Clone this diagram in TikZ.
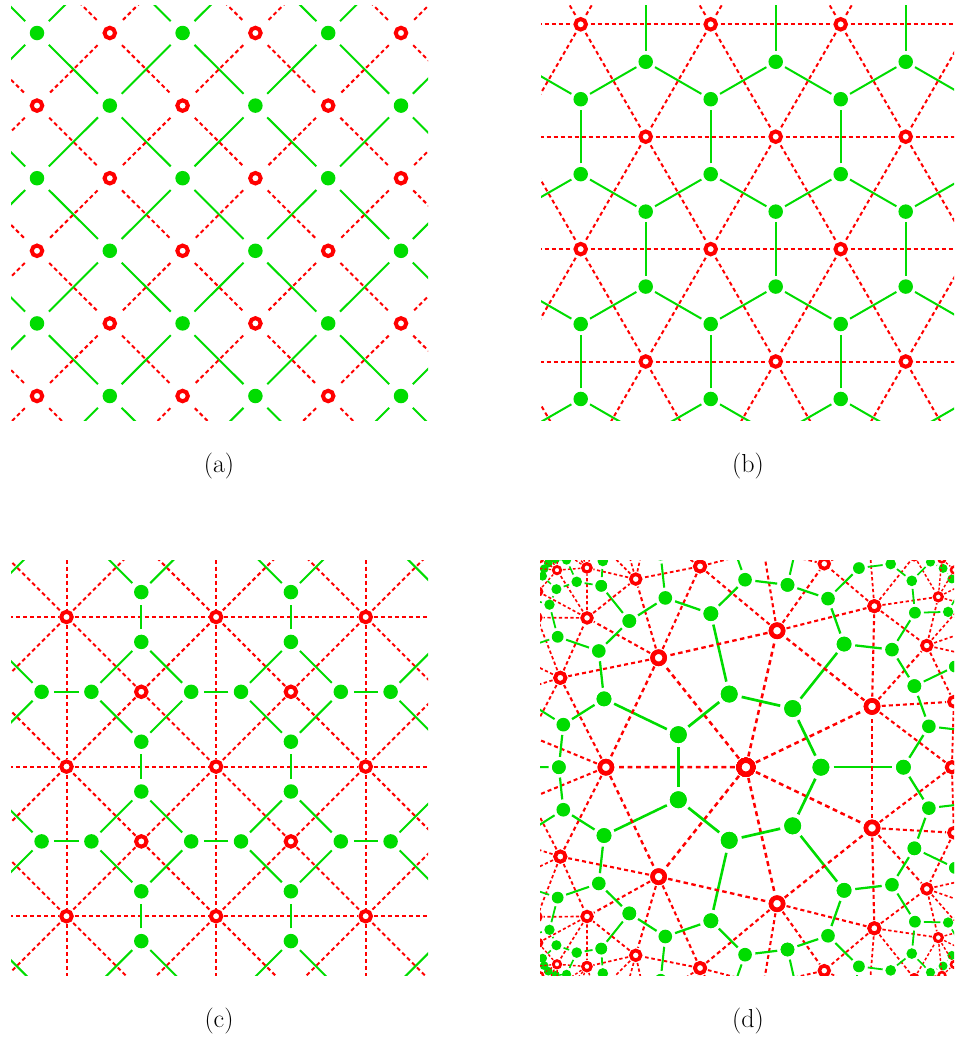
\documentclass[tikz,border=0pt]{standalone}
\usepackage{tikz}
\usetikzlibrary{calc}
\definecolor{lgreen}{RGB}{0,220,0}
\tikzset{
  gnode/.style={circle, fill=lgreen, inner sep=0pt, minimum size=14.5pt},
  rnode/.style={circle, draw=red, fill=white, line width=4pt, inner sep=0pt, minimum size=10.5pt},
  gline/.style={draw=lgreen, line width=2pt},
  rline/.style={draw=red, line width=2pt, dash pattern=on 4pt off 3pt},
  panellabel/.style={font=\fontsize{26}{30}\selectfont},
  % sizes in (d) shrink with the distance #1 from the centre
  hypred/.code={\pgfmathsetmacro\hypz{1-(#1/400)^2}%
    \pgfmathsetmacro\hypw{5.2*\hypz}\pgfmathsetmacro\hypd{13.8*\hypz}\pgfmathsetmacro\hyps{4.2*\hypz}%
    \tikzset{circle, inner sep=0pt, draw=red, fill=white, line width=\hypw pt, minimum size=\hypd pt, outer sep=\hyps pt}},
  hypgreen/.code={\pgfmathsetmacro\hypz{1-(#1/400)^2}%
    \pgfmathsetmacro\hypd{17.5*\hypz}\pgfmathsetmacro\hyps{4.5*\hypz}%
    \tikzset{circle, inner sep=0pt, fill=lgreen, minimum size=\hypd pt, outer sep=\hyps pt}},
  hypgl/.code={\pgfmathsetmacro\hypz{1-(#1/400)^2}\pgfmathsetmacro\hypw{2.8*\hypz}%
    \tikzset{draw=lgreen, line width=\hypw pt}},
  hyprl/.code={\pgfmathsetmacro\hypz{1-(#1/400)^2}\pgfmathsetmacro\hypw{2.6*\hypz}%
    \pgfmathsetmacro\hypon{5*\hypz}\pgfmathsetmacro\hypoff{3.8*\hypz}%
    \tikzset{draw=red, line width=\hypw pt, dash pattern=on \hypon pt off \hypoff pt}},
}
\begin{document}
\begin{tikzpicture}[x=1pt, y=-1pt]
\useasboundingbox (0,0) rectangle (954,1039);

% (a) square lattice and its dual
\begin{scope}[gnode/.append style={outer sep=9.5pt}, rnode/.append style={outer sep=12pt}]
\clip (11,5) rectangle (428,420);
\foreach \i in {0,...,7} {
  \foreach \j in {0,...,7} {
    \pgfmathtruncatemacro\sqpar{mod(\i+\j,2)}
    \ifnum\sqpar=0
      \node[gnode] (a-\i-\j) at ({37+72.8*(\i-1)},{33+72.6*(\j-1)}) {};
    \else
      \node[rnode] (a-\i-\j) at ({37+72.8*(\i-1)},{33+72.6*(\j-1)}) {};
    \fi
  }
}
\foreach \i in {0,...,6} {
  \foreach \j in {0,...,6} {
    \pgfmathtruncatemacro\ii{\i+1}
    \pgfmathtruncatemacro\jj{\j+1}
    \pgfmathtruncatemacro\sqpar{mod(\i+\j,2)}
    \ifnum\sqpar=0
      \draw[gline] (a-\i-\j) -- (a-\ii-\jj);
      \draw[rline] (a-\ii-\j) -- (a-\i-\jj);
    \else
      \draw[rline] (a-\i-\j) -- (a-\ii-\jj);
      \draw[gline] (a-\ii-\j) -- (a-\i-\jj);
    \fi
  }
}
\end{scope}

% (b) triangular lattice and honeycomb
\begin{scope}[gnode/.append style={outer sep=3.5pt}, rnode/.append style={outer sep=4.75pt}]
\clip (541,5) rectangle (954,420);
\foreach \i in {0,...,10} {
  \foreach \j in {0,...,7} {
    \node[rnode] (b-p-\i-\j) at ({580.7+130*(\i-5)+65*(\j-2)},{24.3+112.4*(\j-2)}) {};
    \node[gnode] (b-u-\i-\j) at ({580.7+130*(\i-5)+65*(\j-2)},{24.3+112.4*(\j-2)-74.93}) {};
    \node[gnode] (b-d-\i-\j) at ({580.7+130*(\i-5)+65*(\j-2)},{24.3+112.4*(\j-2)+74.93}) {};
  }
}
\foreach \i in {0,...,10} {
  \foreach \j in {0,...,7} {
    \pgfmathtruncatemacro\ii{\i+1}
    \pgfmathtruncatemacro\im{\i-1}
    \pgfmathtruncatemacro\jj{\j+1}
    \pgfmathtruncatemacro\jm{\j-1}
    \pgfmathtruncatemacro\jmm{\j-2}
    \ifnum\i<10 \draw[rline] (b-p-\i-\j) -- (b-p-\ii-\j); \fi
    \ifnum\j<7 \draw[rline] (b-p-\i-\j) -- (b-p-\i-\jj);
      \ifnum\i>0 \draw[rline] (b-p-\i-\j) -- (b-p-\im-\jj); \fi
    \fi
    \ifnum\j>0 \draw[gline] (b-u-\i-\j) -- (b-d-\i-\jm);
      \ifnum\i<10 \draw[gline] (b-u-\i-\j) -- (b-d-\ii-\jm); \fi
    \fi
    \ifnum\j>1 \ifnum\i<10 \draw[gline] (b-u-\i-\j) -- (b-d-\ii-\jmm); \fi\fi
  }
}
\end{scope}

% (c) tetrakis square lattice and truncated square dual
\begin{scope}[gnode/.append style={outer sep=5.5pt}, rnode/.append style={outer sep=3pt}]
\clip (11,560) rectangle (428,975);
\foreach \i in {0,...,4} {
  \foreach \j in {0,...,4} {
    \node[rnode] (c-v-\i-\j) at ({66.5+149.6*(\i-1)},{617+149.6*(\j-1)}) {};
  }
}
\foreach \i in {0,...,3} {
  \foreach \j in {0,...,3} {
    \node[rnode] (c-c-\i-\j) at ({141.3+149.6*(\i-1)},{691.8+149.6*(\j-1)}) {};
    \node[gnode] (c-t-\i-\j) at ({141.3+149.6*(\i-1)},{641.9+149.6*(\j-1)}) {};
    \node[gnode] (c-b-\i-\j) at ({141.3+149.6*(\i-1)},{741.7+149.6*(\j-1)}) {};
    \node[gnode] (c-l-\i-\j) at ({91.4+149.6*(\i-1)},{691.8+149.6*(\j-1)}) {};
    \node[gnode] (c-r-\i-\j) at ({191.2+149.6*(\i-1)},{691.8+149.6*(\j-1)}) {};
  }
}
\foreach \i in {0,...,4} {
  \foreach \j in {0,...,4} {
    \pgfmathtruncatemacro\ii{\i+1}
    \pgfmathtruncatemacro\jj{\j+1}
    \ifnum\i<4 \draw[rline] (c-v-\i-\j) -- (c-v-\ii-\j); \fi
    \ifnum\j<4 \draw[rline] (c-v-\i-\j) -- (c-v-\i-\jj); \fi
  }
}
\foreach \i in {0,...,3} {
  \foreach \j in {0,...,3} {
    \pgfmathtruncatemacro\ii{\i+1}
    \pgfmathtruncatemacro\jj{\j+1}
    \pgfmathtruncatemacro\im{\i-1}
    \pgfmathtruncatemacro\jm{\j-1}
    \draw[rline] (c-c-\i-\j) -- (c-v-\i-\j);
    \draw[rline] (c-c-\i-\j) -- (c-v-\ii-\j);
    \draw[rline] (c-c-\i-\j) -- (c-v-\i-\jj);
    \draw[rline] (c-c-\i-\j) -- (c-v-\ii-\jj);
    \draw[gline] (c-t-\i-\j) -- (c-l-\i-\j);
    \draw[gline] (c-t-\i-\j) -- (c-r-\i-\j);
    \draw[gline] (c-b-\i-\j) -- (c-l-\i-\j);
    \draw[gline] (c-b-\i-\j) -- (c-r-\i-\j);
    \ifnum\j>0 \draw[gline] (c-t-\i-\j) -- (c-b-\i-\jm); \fi
    \ifnum\i>0 \draw[gline] (c-l-\i-\j) -- (c-r-\im-\j); \fi
  }
}
\end{scope}

% (d) heptagonal lattice, one half-sector is listed and repeated
\begin{scope}
\clip (540,560) rectangle (954,975);
\begin{scope}[shift={(745.9,767.2)}]
\foreach \k in {0,...,6} {
  \foreach \s/\t in {p/1,m/-1} {
    \foreach \n/\f/\r in {RC/0/0, R1/25.71/140, Rw/0/206, Rx/17.5/218,
        Rp/0/270, Rs/9.9/257, Ra/14.5/272, Rb/20.5/273, Rt/25.71/255,
        Q1/1.6/290, Q2/4.7/286, Q3/8.0/287, Q4/11.5/287, Q5/13.4/292, Q6/15.4/293,
        Q7/17.5/291, Q8/19.6/293, Q9/21.6/292, Q10/23.6/289, Q11/25.71/287}
      \node[hypred=\r] (\n-\k-\s) at ({\k*360/7+\t*\f}:\r) {};
    \foreach \n/\f/\r in {G1/0/75, Ga/0/157.5, Gb/12.6/187.5, Gc/25.71/187,
        Gd/9.0/229, Ge/25.71/232, Gf/3.1/249.5, Gg/13.9/255, Gh/17.5/260, Gi/21.9/251,
        A0/0/283, A1/1.8/282, B1/3.4/276, C1/6.2/280, C2/9.0/279, B2/12.0/276,
        D1/13.4/282, D2/15.0/284, D3/16.2/282, B3/17.5/279, E1/18.8/283,
        E2/20.2/284, E3/21.8/282, B4/23.4/274, F1/24.8/279}
      \node[hypgreen=\r] (\n-\k-\s) at ({\k*360/7+\t*\f}:\r) {};
  }
}
\end{scope}
\foreach \k in {0,...,6} {
  \pgfmathtruncatemacro\kn{mod(\k+1,7)}
  \foreach \s in {p,m} {
    \foreach \a/\b/\r in {R1/Rw/173, R1/Rx/179, Rw/Rx/212,
        Rw/Rs/231, Rx/Rs/237, Rx/Ra/245, Rx/Rb/245, Rx/Rt/236, Rp/Rs/263,
        Rs/Ra/264, Ra/Rb/272, Rb/Rt/264, Rp/Q1/280, Rp/Q2/278, Rs/Q2/272,
        Rs/Q3/272, Rs/Q4/272, Ra/Q4/280, Ra/Q5/282, Ra/Q6/282, Ra/Q7/282,
        Rb/Q7/282, Rb/Q8/283, Rb/Q9/283, Rb/Q10/281, Rt/Q10/272,
        Q1/Q2/288, Q2/Q3/287, Q3/Q4/287, Q4/Q5/290, Q5/Q6/292, Q6/Q7/292,
        Q7/Q8/292, Q8/Q9/292, Q9/Q10/290, Q10/Q11/288}
      \draw[hyprl=\r] (\a-\k-\s) -- (\b-\k-\s);
    \foreach \a/\b/\r in {Ga/Gb/172, Gb/Gc/185, Gb/Gd/208,
        Gd/Gf/239, Gd/Gg/242, Gg/Gh/257, Gh/Gi/255, Gi/Ge/241, Gf/B1/263,
        Gg/B2/265, Gh/B3/270, Gi/B4/262, A0/A1/282, A1/B1/279, B1/C1/278,
        C1/C2/280, C2/B2/278, B2/D1/279, D1/D2/283, D2/D3/283, D3/B3/280,
        B3/E1/281, E1/E2/283, E2/E3/283, E3/B4/278, B4/F1/276}
      \draw[hypgl=\r] (\a-\k-\s) -- (\b-\k-\s);
  }
  % edges lying on the mirror lines
  \foreach \a/\b/\r in {RC/R1/70, Rw/Rp/238, Rt/Q11/271}
    \draw[hyprl=\r] (\a-\k-p) -- (\b-\k-p);
  \foreach \a/\b/\r in {G1/Ga/116, Gc/Ge/210}
    \draw[hypgl=\r] (\a-\k-p) -- (\b-\k-p);
  % edges across the mirror lines
  \draw[hyprl=126] (R1-\k-p) -- (R1-\k-m);
  \draw[hyprl=290] (Q1-\k-p) -- (Q1-\k-m);
  \draw[hyprl=210] (Rx-\k-p) -- (Rx-\kn-m);
  \draw[hypgl=249] (Gf-\k-p) -- (Gf-\k-m);
  \draw[hypgl=70] (G1-\k-p) -- (G1-\kn-m);
  \draw[hypgl=280] (F1-\k-p) -- (F1-\kn-m);
}
\end{scope}

% labels
\node[panellabel] (labela) at (219,466) {(a)};
\node[panellabel] (labelb) at (748,466) {(b)};
\node[panellabel] (labelc) at (219,1021) {(c)};
\node[panellabel] (labeld) at (748,1021) {(d)};
\end{tikzpicture}
\end{document}
